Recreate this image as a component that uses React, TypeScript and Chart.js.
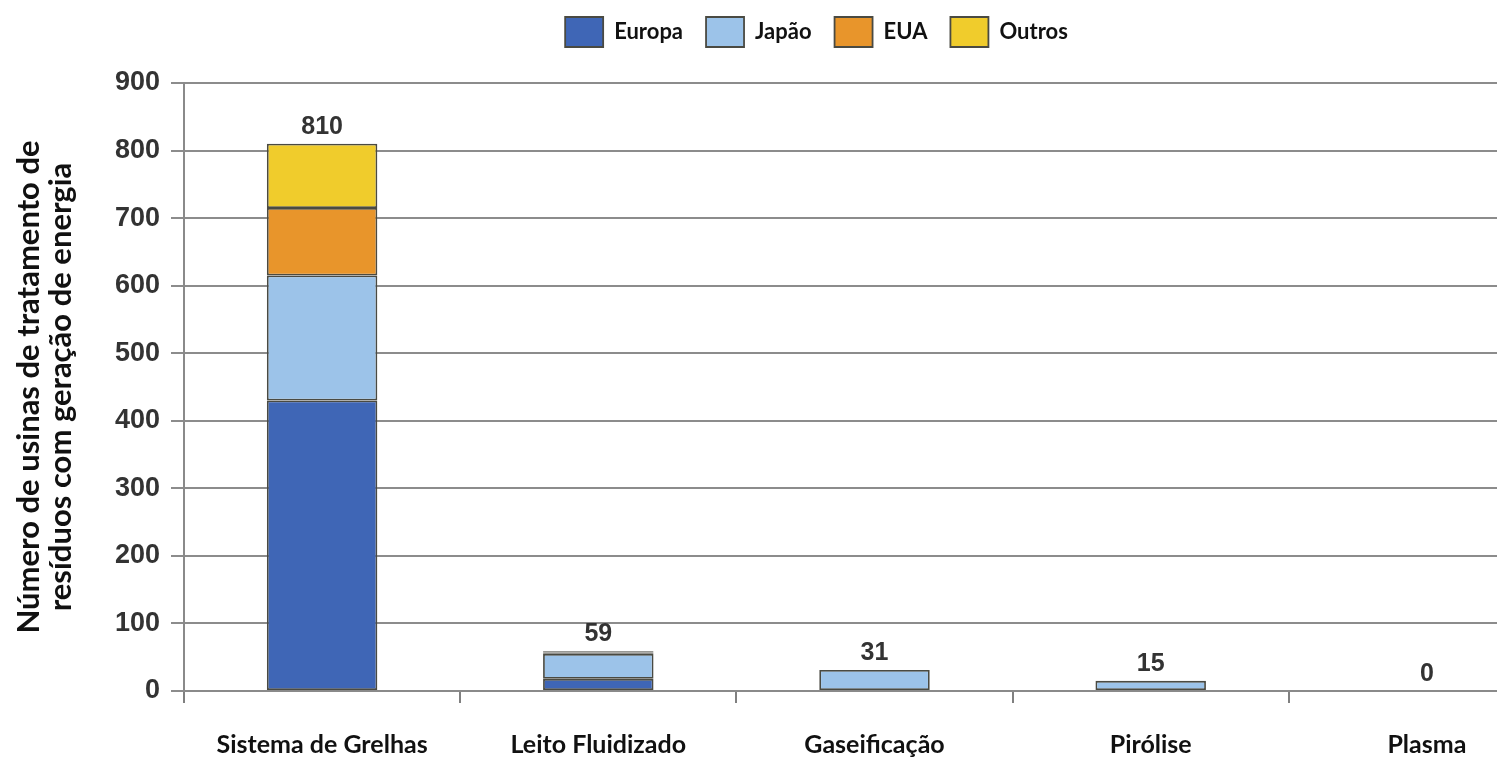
import { useEffect, useRef } from 'react';
import { Chart, registerables } from 'chart.js';

Chart.register(...registerables);

const categories = ['Sistema de Grelhas', 'Leito Fluidizado', 'Gaseificação', 'Pirólise', 'Plasma'];
const europa = [430, 18, 0, 0, 0];
const japao = [185, 37, 31, 15, 0];
const eua = [100, 2, 0, 0, 0];
const outros = [95, 2, 0, 0, 0];
const seriesNames = ['Europa', 'Japão', 'EUA', 'Outros'];
const seriesColors = ['#3f66b6', '#9cc3e9', '#e8952b', '#f0cc2c'];
const yTitle = ['Número de usinas de tratamento de', 'resíduos com geração de energia'];
const yMin = 0;
const yMax = 900;
const yStep = 100;

const CANVAS_W = 1565;
const CANVAS_H = 757;

const totalsPlugin = {
  id: 'totals',
  afterDatasetsDraw(chart: any) {
    const { ctx, scales } = chart;
    const xs = scales.x;
    const ys = scales.y;
    ctx.save();
    ctx.font = 'bold 25px "Liberation Sans", Arial, sans-serif';
    ctx.fillStyle = '#333333';
    ctx.textAlign = 'center';
    ctx.textBaseline = 'middle';
    categories.forEach((_, i) => {
      const total = chart.data.datasets.reduce((s: number, d: any) => s + (d.data[i] || 0), 0);
      const x = xs.getPixelForValue(i);
      const y = ys.getPixelForValue(total) - 17;
      ctx.fillText(String(total), x, y);
    });
    ctx.restore();
  },
};

const legendPlugin = {
  id: 'legendSpace',
  beforeInit(chart: any) {
    const legend = chart.legend;
    if (!legend) return;
    const origFit = legend.fit;
    legend.fit = function () {
      origFit.bind(this)();
      this.height = 83;
    };
  },
  afterLayout(chart: any) {
    const legend = chart.legend;
    if (!legend) return;
    legend.left += 34;
    legend.right += 34;
    legend.top -= 6;
    legend.bottom -= 6;
  },
};

export default function App() {
  const ref = useRef<HTMLCanvasElement | null>(null);

  useEffect(() => {
    if (!ref.current) return;
    const datasets = [europa, japao, eua, outros].map((data, k) => ({
      label: seriesNames[k],
      data,
      backgroundColor: seriesColors[k],
      borderColor: '#4a4a42',
      borderWidth: (c: any) => (c.raw ? 1.8 : 0),
      borderSkipped: false,
      barPercentage: 0.4,
      categoryPercentage: 1,
    }));
    const chart = new Chart(ref.current, {
      type: 'bar',
      data: { labels: categories, datasets },
      plugins: [totalsPlugin, legendPlugin],
      options: {
        responsive: false,
        animation: false,
        layout: { padding: { top: 0, left: 0, right: 0, bottom: 0 } },
        plugins: {
          legend: {
            position: 'top',
            labels: {
              boxWidth: 38,
              boxHeight: 30,
              padding: 23,
              color: '#111111',
              font: { family: 'Lato, "Open Sans", sans-serif', size: 22, weight: 'bold' },
            },
          },
          tooltip: { enabled: false },
        },
        scales: {
          x: {
            stacked: true,
            afterFit: (s: any) => {
              s.height = 66;
            },
            grid: {
              display: true,
              drawOnChartArea: false,
              drawTicks: true,
              tickLength: 12,
              color: '#808080',
              lineWidth: 2,
            },
            border: { display: true, color: '#8a8a8a', width: 2 },
            ticks: {
              padding: 27,
              color: '#111111',
              font: { family: 'Lato, "Open Sans", sans-serif', size: 25, weight: 'bold' },
              maxRotation: 0,
              autoSkip: false,
            },
          },
          y: {
            stacked: true,
            min: yMin,
            max: yMax,
            afterFit: (s: any) => {
              s.width = 184;
            },
            ticks: {
              stepSize: yStep,
              padding: 11,
              color: '#333333',
              font: { family: '"Liberation Sans", Arial, sans-serif', size: 27, weight: 'bold' },
            },
            grid: {
              color: '#8c8c8c',
              lineWidth: 2,
              tickLength: 13,
            },
            border: { display: true, color: '#8a8a8a', width: 2 },
            title: {
              display: true,
              text: yTitle,
              color: '#111111',
              font: { family: 'Lato, "Open Sans", sans-serif', size: 31, weight: 'bold', lineHeight: 1.04 },
              padding: { top: 13, bottom: 0 },
            },
          },
        },
      },
    } as any);
    return () => chart.destroy();
  }, []);

  return (
    <div
      style={{
        position: 'fixed',
        left: 0,
        top: 0,
        width: 1497,
        height: CANVAS_H,
        overflow: 'hidden',
        background: '#ffffff',
      }}
    >
      <canvas ref={ref} width={CANVAS_W} height={CANVAS_H} />
    </div>
  );
}
